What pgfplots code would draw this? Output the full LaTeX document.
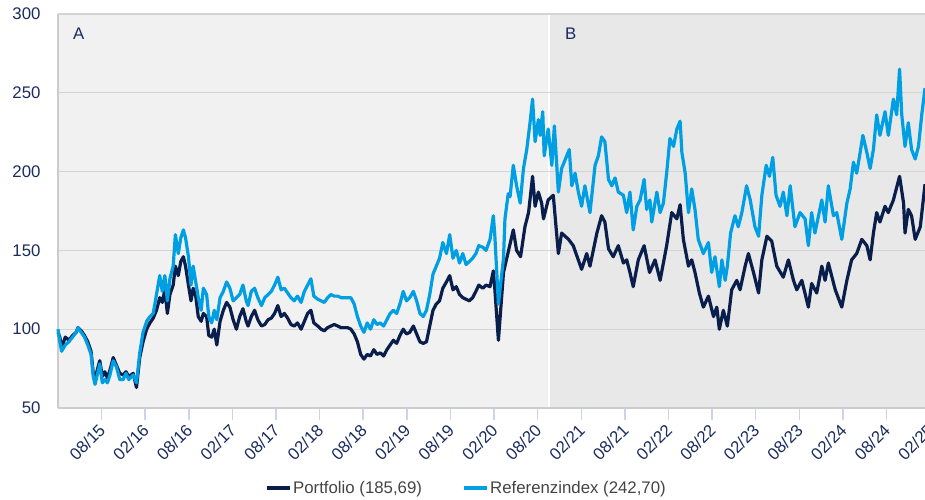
\documentclass[border=0pt]{standalone}
\usepackage{pgfplots}
\pgfplotsset{compat=1.18}
\usepackage{fontspec}
\setmainfont{Liberation Sans}
\definecolor{navy}{HTML}{0A1E4C}
\definecolor{lblue}{HTML}{009FE3}
\definecolor{txtnavy}{HTML}{1B2B5E}
\definecolor{bgA}{HTML}{F1F1F1}
\definecolor{bgB}{HTML}{E8E8E8}
\definecolor{gridc}{HTML}{D2D4D6}
\definecolor{tickc}{HTML}{C9D5EA}
\definecolor{legtxt}{HTML}{444444}
\newcommand{\lblfont}{\fontsize{16.8}{20}\selectfont}
\begin{document}
\begin{tikzpicture}
\begin{axis}[
  set layers,
  at={(0,0)}, anchor=south west,
  scale only axis, width=867pt, height=394pt,
  xmin=2, xmax=240.6, ymin=50, ymax=300,
  ytick={50,100,...,300},
  xtick={14,26,...,230},
  xticklabels={08/15,02/16,08/16,02/17,08/17,02/18,08/18,02/19,08/19,02/20,08/20,02/21,08/21,02/22,08/22,02/23,08/23,02/24,08/24},
  ymajorgrids, grid style={gridc, line width=1.3pt},
  axis x line*=bottom, axis y line*=left,
  axis line style={-, draw=gray!40, line width=1.3pt},
  tick align=outside, major tick length=12pt,
  xtick style={draw=tickc, line width=1.5pt},
  ytick style={draw=none},
  /pgf/number format/assume math mode=true,
  tick label style={font=\lblfont, text=txtnavy},
  yticklabel style={xshift=-2pt},
  xticklabel style={xshift=3pt, yshift=-5pt, rotate=45, anchor=east},
  clip=false,
  legend style={at={(0.471,-0.203)}, anchor=center, draw=none, fill=none,
    legend columns=2, font=\lblfont, text=legtxt,
    /tikz/every even column/.append style={column sep=38pt}},
  legend cell align=left,
  legend image code/.code={\draw[#1, line width=3.2pt] (0pt,0pt) -- (23pt,0pt);},
]
\begin{pgfonlayer}{axis background}
\fill[bgA] (axis cs:2,50) rectangle (axis cs:137.1,300);
\fill[bgB] (axis cs:137.1,50) rectangle (axis cs:240.6,300);
\draw[white, line width=1.5pt] (axis cs:137.1,50) -- (axis cs:137.1,300);
\end{pgfonlayer}

\addplot[navy, line width=3.2pt, line join=round] coordinates {
(2.0,98) (2.5,95) (3.0,88) (4.0,95) (5.0,93) (6.0,96) (7.0,98) (7.5,101) (8.4,99) (9.3,96)
(10.2,92) (11.1,86) (11.7,72) (12.2,68) (12.9,75) (13.5,80) (14.2,70) (14.9,73) (15.6,69) (16.3,74)
(17.2,82) (18.1,77) (19.0,72) (19.9,71) (20.7,73) (21.5,70) (22.7,72) (23.6,63) (24.5,82) (25.4,92)
(26.4,100) (27.3,104) (28.2,107) (29.1,112) (30.0,120) (30.7,117) (31.4,125) (32.1,110) (32.8,122) (33.7,128)
(34.3,140) (35.1,134) (35.8,143) (36.5,146) (37.1,140) (37.9,128) (38.6,118) (39.2,126) (39.9,121) (40.6,108)
(41.4,105) (42.0,110) (42.9,108) (43.5,96) (44.3,95) (45.0,100) (45.7,90) (46.6,105) (47.5,112) (48.4,117)
(49.3,114) (50.2,106) (51.1,100) (52.0,108) (52.9,113) (53.8,105) (54.3,102) (55.2,108) (56.1,112) (57.0,106)
(58.0,102) (58.9,103) (59.8,106) (60.7,107) (61.6,110) (62.5,115) (63.4,108) (64.3,110) (65.2,107) (66.1,103)
(67.0,102) (67.9,104) (68.9,100) (69.8,105) (70.7,110) (71.6,112) (72.4,104) (73.5,102) (74.4,100) (75.3,99)
(76.2,101) (77.1,102) (78.0,103) (79.0,102) (79.9,101) (80.8,101) (81.7,101) (82.6,100) (83.5,97) (84.4,92)
(85.3,84) (86.2,81) (87.1,84) (88.0,83) (88.9,87) (89.8,84) (90.7,85) (91.6,83) (92.5,87) (93.4,90)
(94.3,93) (95.2,91) (96.1,96) (97.0,100) (97.9,97) (98.8,98) (99.8,102) (100.7,97) (101.6,92) (102.5,91)
(103.4,92) (104.3,102) (105.2,112) (106.1,116) (107.0,118) (107.9,126) (108.9,130) (109.8,134) (110.7,125) (111.6,127)
(112.5,122) (113.4,120) (114.3,119) (115.2,118) (116.1,120) (117.0,124) (117.8,128) (118.9,126) (119.8,128)
(120.9,127) (121.8,137) (122.2,126) (123.2,93) (124.6,136) (125.9,149) (127.3,163) (128.2,150) (129.3,146) (130.5,165)
(131.5,174) (132.6,197) (133.3,178) (134.2,187) (135.1,180) (135.6,170) (136.9,182) (138.3,185) (139.7,148) (140.6,161)
(142.5,157) (143.8,153) (146.1,138) (147.5,148) (148.4,140) (150.3,161) (151.6,172) (152.5,168) (153.5,151) (154.8,146)
(156.2,153) (157.6,142) (158.5,144) (159.4,136) (160.3,127) (161.7,144) (163.3,153) (164.8,136) (166.3,144) (167.7,131)
(169.5,153) (170.9,174) (172.3,170) (173.2,179) (174.1,157) (175.5,140) (176.4,144) (177.3,136) (178.5,123) (179.6,114)
(181.0,121) (182.4,108) (183.3,114) (184.0,100) (185.1,112) (186.2,102) (187.4,125) (188.8,131) (189.7,125) (191.1,140)
(192.0,148) (193.4,136) (194.8,123) (195.7,144) (197.1,159) (198.4,156) (199.8,140) (201.6,133) (203.0,144) (204.4,131)
(205.3,125) (206.7,131) (208.5,114) (209.4,129) (210.8,123) (212.2,140) (213.1,131) (214.0,142) (215.9,125) (217.7,114)
(219.1,131) (220.4,144) (221.8,148) (223.2,157) (224.6,153) (225.5,144) (226.4,161) (227.3,174) (228.2,168) (229.6,178)
(230.5,174) (231.9,182) (233.6,197) (234.7,180) (235.1,161) (236.0,176) (236.9,172) (237.9,157) (239.3,165) (240.6,192)
};
\addlegendentry{Portfolio (185,69)}
\addplot[lblue, line width=3.2pt, line join=round] coordinates {
(2.0,100) (2.5,92) (3.0,86) (4.0,90) (5.0,92) (6.0,95) (7.0,98) (7.5,101) (8.4,98) (9.3,95)
(10.2,90) (11.1,84) (11.7,70) (12.2,65) (12.9,72) (13.5,78) (14.2,66) (14.9,68) (15.6,66) (16.3,71)
(17.2,80) (18.1,76) (19.0,68) (19.9,68) (20.7,72) (21.5,68) (22.7,71) (23.6,66) (24.5,85) (25.4,98)
(26.4,105) (27.3,108) (28.2,110) (29.1,122) (30.0,134) (30.7,124) (31.4,134) (32.1,118) (32.8,132) (33.7,140)
(34.3,160) (35.1,148) (35.8,158) (36.5,163) (37.1,158) (37.9,146) (38.6,128) (39.2,140) (39.9,130) (40.6,120)
(41.4,112) (42.0,126) (42.9,122) (43.5,108) (44.3,104) (45.0,112) (45.7,106) (46.6,120) (47.5,124) (48.4,130)
(49.3,126) (50.2,118) (51.1,120) (52.0,122) (52.9,128) (53.8,118) (54.3,115) (55.2,124) (56.1,126) (57.0,120)
(58.0,115) (58.9,120) (59.8,122) (60.7,124) (61.6,128) (62.5,133) (63.4,125) (64.3,126) (65.2,123) (66.1,120)
(67.0,118) (67.9,121) (68.9,117) (69.8,124) (70.7,128) (71.6,132) (72.4,121) (73.5,119) (74.4,118) (75.3,117)
(76.2,120) (77.1,122) (78.0,121) (79.0,121) (79.9,120) (80.8,120) (81.7,120) (82.6,120) (83.5,116) (84.4,108)
(85.3,102) (86.2,98) (87.1,104) (88.0,100) (88.9,106) (89.8,103) (90.7,104) (91.6,102) (92.5,106) (93.4,110)
(94.3,112) (95.2,110) (96.1,116) (97.0,124) (97.9,118) (98.8,120) (99.8,124) (100.7,118) (101.6,110) (102.5,108)
(103.4,112) (104.3,122) (105.2,135) (106.1,140) (107.0,145) (107.9,155) (108.9,148) (109.8,160) (110.7,145) (111.6,150)
(112.5,142) (113.4,148) (114.3,141) (115.2,143) (116.1,145) (117.0,148) (117.8,153) (118.9,152) (119.8,150)
(120.9,157) (121.8,172) (122.2,160) (123.2,116) (124.6,145) (125.0,170) (125.9,186) (126.4,184) (127.3,204) (128.2,191)
(129.2,180) (130.1,202) (131.0,214) (131.9,231) (132.6,246) (133.3,219) (134.2,233) (134.7,223) (135.4,238) (135.8,210)
(136.9,227) (137.9,204) (138.6,229) (139.7,187) (140.6,202) (142.7,214) (143.4,191) (144.3,199) (145.2,187) (146.1,178)
(147.0,191) (148.4,174) (149.8,204) (150.7,210) (151.6,222) (152.5,219) (153.5,195) (154.4,191) (155.3,196) (156.2,187)
(157.6,185) (158.5,174) (159.4,187) (160.3,163) (161.3,178) (162.2,182) (163.3,195) (164.0,176) (164.9,182) (165.4,168)
(166.8,187) (167.7,174) (168.6,180) (169.5,199) (170.4,221) (171.4,216) (172.3,227) (173.2,232) (173.7,212) (174.6,199)
(175.5,174) (176.4,189) (177.3,176) (178.2,157) (179.6,148) (181.0,155) (181.9,136) (182.8,146) (184.0,127) (184.7,144)
(185.6,131) (186.2,140) (187.1,161) (188.3,172) (189.2,165) (190.2,174) (191.5,191) (192.5,182) (193.8,165) (194.8,159)
(195.7,185) (196.9,204) (197.8,197) (198.7,209) (199.6,185) (200.7,178) (201.6,187) (202.6,172) (203.5,191) (204.8,165)
(206.2,174) (207.6,170) (208.5,153) (209.4,174) (210.3,161) (212.2,182) (213.1,168) (214.0,191) (215.4,172) (216.3,174)
(217.7,157) (219.1,180) (220.0,189) (220.9,206) (221.8,199) (222.6,210) (223.5,223) (224.6,212) (225.5,202) (226.4,214)
(227.3,236) (228.2,223) (229.6,238) (230.5,223) (231.9,246) (232.8,236) (233.6,265) (234.2,236) (235.1,216) (236.0,231)
(236.9,214) (237.9,208) (238.8,216) (239.7,236) (240.6,253)
};
\addlegendentry{Referenzindex (242,70)}
\node[anchor=north west, inner sep=0pt, font=\lblfont, text=txtnavy] at (axis cs:2,300) [xshift=15pt, yshift=-14pt] {A};
\node[anchor=north west, inner sep=0pt, font=\lblfont, text=txtnavy] at (axis cs:137.1,300) [xshift=16pt, yshift=-14pt] {B};
\node[xshift=3pt, yshift=-17pt, rotate=45, anchor=east, font=\lblfont, text=txtnavy] at (axis cs:242,50) {02/25};
\end{axis}
\pgfresetboundingbox
\path[use as bounding box] (-58pt,-91pt) rectangle (867pt,408pt);
\end{tikzpicture}
\end{document}
